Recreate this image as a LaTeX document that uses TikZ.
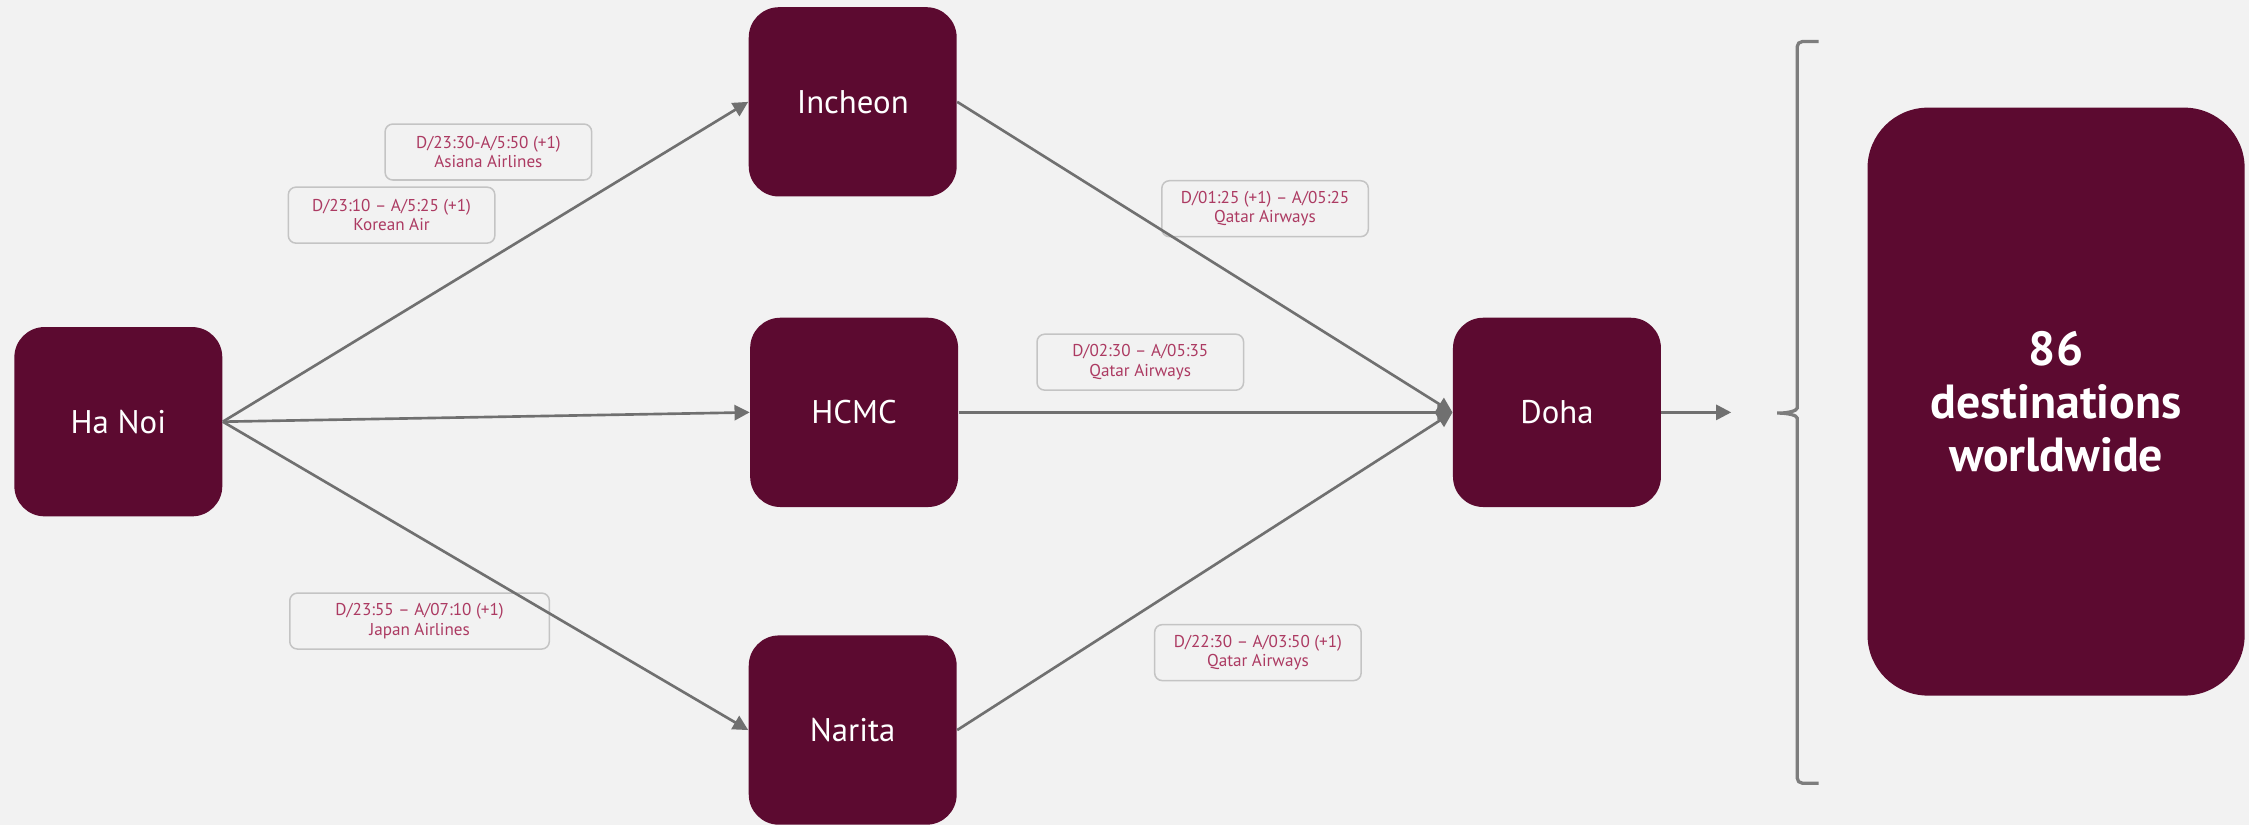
\documentclass[tikz,border=0pt]{standalone}
\usepackage{fontspec}
\setmainfont{PT Sans}
\usetikzlibrary{arrows.meta}
\definecolor{bg}{RGB}{242,242,242}
\definecolor{maroon}{RGB}{92,10,48}
\definecolor{linegray}{RGB}{112,112,112}
\definecolor{brgray}{RGB}{125,125,125}
\definecolor{lblborder}{RGB}{196,196,196}
\definecolor{lbltext}{RGB}{172,58,98}
\begin{document}
\begin{tikzpicture}[x=0.02cm,y=-0.02cm,
  city/.style={fill=maroon, rounded corners=12pt, minimum width=2.9cm, minimum height=2.64cm, inner sep=0pt, text=white, font=\fontsize{13}{15}\selectfont},
  lbl/.style={draw=lblborder, line width=0.6pt, fill=bg, rounded corners=3pt, minimum width=2.88cm, minimum height=0.78cm, inner sep=0pt, text=lbltext, align=center, font=\fontsize{6.8}{7.8}\selectfont},
  flow/.style={draw=linegray, line width=1.05pt, -{Triangle[length=6pt,width=6pt]}},
  bracket/.style={draw=brgray, line width=1.3pt, rounded corners=2pt}
]
\fill[bg] (0,0) rectangle (1568,575);
\useasboundingbox (0,0) rectangle (1568,575);

% labels (drawn first so connectors lie on top)
\node[lbl] (l1) at (340.5,106) {D/23:30-A/5:50 (+1)\\Asiana Airlines};
\node[lbl] (l2) at (273,150) {D/23:10 – A/5:25 (+1)\\Korean Air};
\node[lbl] (l3) at (882,145.5) {D/01:25 (+1) – A/05:25\\Qatar Airways};
\node[lbl] (l4) at (795,252.5) {D/02:30 – A/05:35\\Qatar Airways};
\node[lbl, minimum width=3.62cm] (l5) at (292.5,433) {D/23:55 – A/07:10 (+1)\\Japan Airlines};
\node[lbl] (l6) at (877,455) {D/22:30 – A/03:50 (+1)\\Qatar Airways};

% city nodes
\node[city] (hanoi) at (82.5,294) {Ha Noi};
\node[city] (incheon) at (594.5,71) {Incheon};
\node[city] (hcmc) at (595.5,287.5) {HCMC};
\node[city] (narita) at (594.5,509) {Narita};
\node[city] (doha) at (1085.5,287.5) {Doha};
\node[fill=maroon, rounded corners=24pt, minimum width=5.26cm, minimum height=8.2cm, inner sep=0pt, text=white, align=center, font=\bfseries\fontsize{19}{21}\selectfont] (dest) at (1433.5,280) {86\\destinations\\worldwide};

% connectors
\draw[flow] (hanoi.east) -- (incheon.west);
\draw[flow] (hanoi.east) -- (hcmc.west);
\draw[flow] (hanoi.east) -- (narita.west);
\draw[flow] (incheon.east) -- (doha.west);
\draw[flow] (hcmc.east) -- (doha.west);
\draw[flow] (narita.east) -- (doha.west);
\coordinate (dohaout) at (1207,287.5);
\draw[flow] (doha.east) -- (dohaout);

% bracket
\draw[bracket] (1268,29) -- (1253,29) -- (1253,281)
  .. controls (1253,286.5) and (1246,288) .. (1237,288)
  .. controls (1246,288) and (1253,289.5) .. (1253,295)
  -- (1253,546) -- (1268,546);
\end{tikzpicture}
\end{document}
